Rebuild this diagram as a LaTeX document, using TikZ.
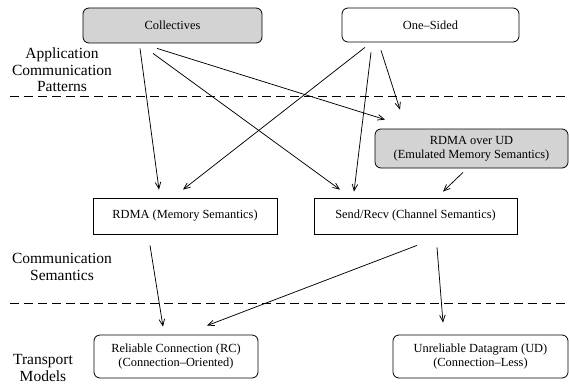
\documentclass[tikz,border=0pt]{standalone}
\usepackage{fontspec}
\setmainfont{Liberation Serif}
\usetikzlibrary{arrows.meta}
\definecolor{boxgray}{RGB}{211,211,211}
\begin{document}
\begin{tikzpicture}[x=1pt,y=-1pt,
  box/.style={draw,line width=0.8pt,inner sep=0pt,align=center,font=\fontsize{12.4}{14.5}\selectfont},
  rbox/.style={box,rounded corners=6pt},
  gbox/.style={rbox,fill=boxgray},
  lbl/.style={align=center,font=\fontsize{15.5}{16.5}\selectfont},
  arr/.style={line width=0.75pt,-{Straight Barb[length=6.5pt,width=5.5pt]}},
  sep/.style={line width=0.8pt,dash pattern=on 9pt off 5pt}]
\useasboundingbox (0,0) rectangle (569,385);
\node[gbox,minimum width=179pt,minimum height=35pt] (coll) at (172.5,25.5) {Collectives};
\node[rbox,minimum width=177pt,minimum height=34pt] (one) at (430.5,25) {One–Sided};
\node[gbox,minimum width=193pt,minimum height=39pt] (ud1) at (471.5,148.5) {RDMA over UD\\(Emulated Memory Semantics)};
\node[box,minimum width=184pt,minimum height=36pt] (rdma) at (185,216) {RDMA (Memory Semantics)};
\node[box,minimum width=203pt,minimum height=36pt] (sr) at (415.5,216) {Send/Recv (Channel Semantics)};
\node[rbox,minimum width=164pt,minimum height=43pt] (rc) at (176,356.5) {Reliable Connection (RC)\\(Connection–Oriented)};
\node[rbox,minimum width=175pt,minimum height=43pt] (udt) at (480.5,356.5) {Unreliable Datagram (UD)\\(Connection–Less)};
\node[lbl] (l1) at (62,70) {Application\\Communication\\Patterns};
\node[lbl] (l2) at (62,267) {Communication\\Semantics};
\node[lbl] (l3) at (43,368) {Transport\\Models};
\coordinate (d1a) at (10,96.5);
\coordinate (d1b) at (569,96.5);
\coordinate (d2a) at (10,303);
\coordinate (d2b) at (569,303);
\draw[sep] (d1a) -- (d1b);
\draw[sep] (d2a) -- (d2b);
\draw[arr] ([xshift=-32.5pt,yshift=-5pt]coll.south) -- ([xshift=-26pt,yshift=8pt]rdma.north);
\draw[arr] ([xshift=-19.5pt,yshift=-10pt]coll.south) -- ([xshift=-75.5pt,yshift=8pt]sr.north);
\draw[arr] ([xshift=-15.5pt,yshift=-5pt]coll.south) -- ([xshift=-86.5pt,yshift=9pt]ud1.north);
\draw[arr] ([xshift=-65.5pt,yshift=-5pt]one.south) -- ([xshift=-2pt,yshift=8pt]rdma.north);
\draw[arr] ([xshift=-59.5pt,yshift=-10pt]one.south) -- ([xshift=-61.5pt,yshift=6pt]sr.north);
\draw[arr] ([xshift=-49.5pt,yshift=-8pt]one.south) -- ([xshift=-71.5pt,yshift=19pt]ud1.north);
\draw[arr] ([xshift=-8.5pt,yshift=-4pt]ud1.south) -- ([xshift=27.5pt,yshift=6pt]sr.north);
\draw[arr] ([xshift=-35pt,yshift=-11pt]rdma.south) -- ([xshift=-13pt,yshift=8pt]rc.north);
\draw[arr] ([xshift=1.5pt,yshift=-11pt]sr.south) -- ([xshift=31pt,yshift=9pt]rc.north);
\draw[arr] ([xshift=21.5pt,yshift=-13pt]sr.south) -- ([xshift=-37.5pt,yshift=12pt]udt.north);
\end{tikzpicture}
\end{document}
